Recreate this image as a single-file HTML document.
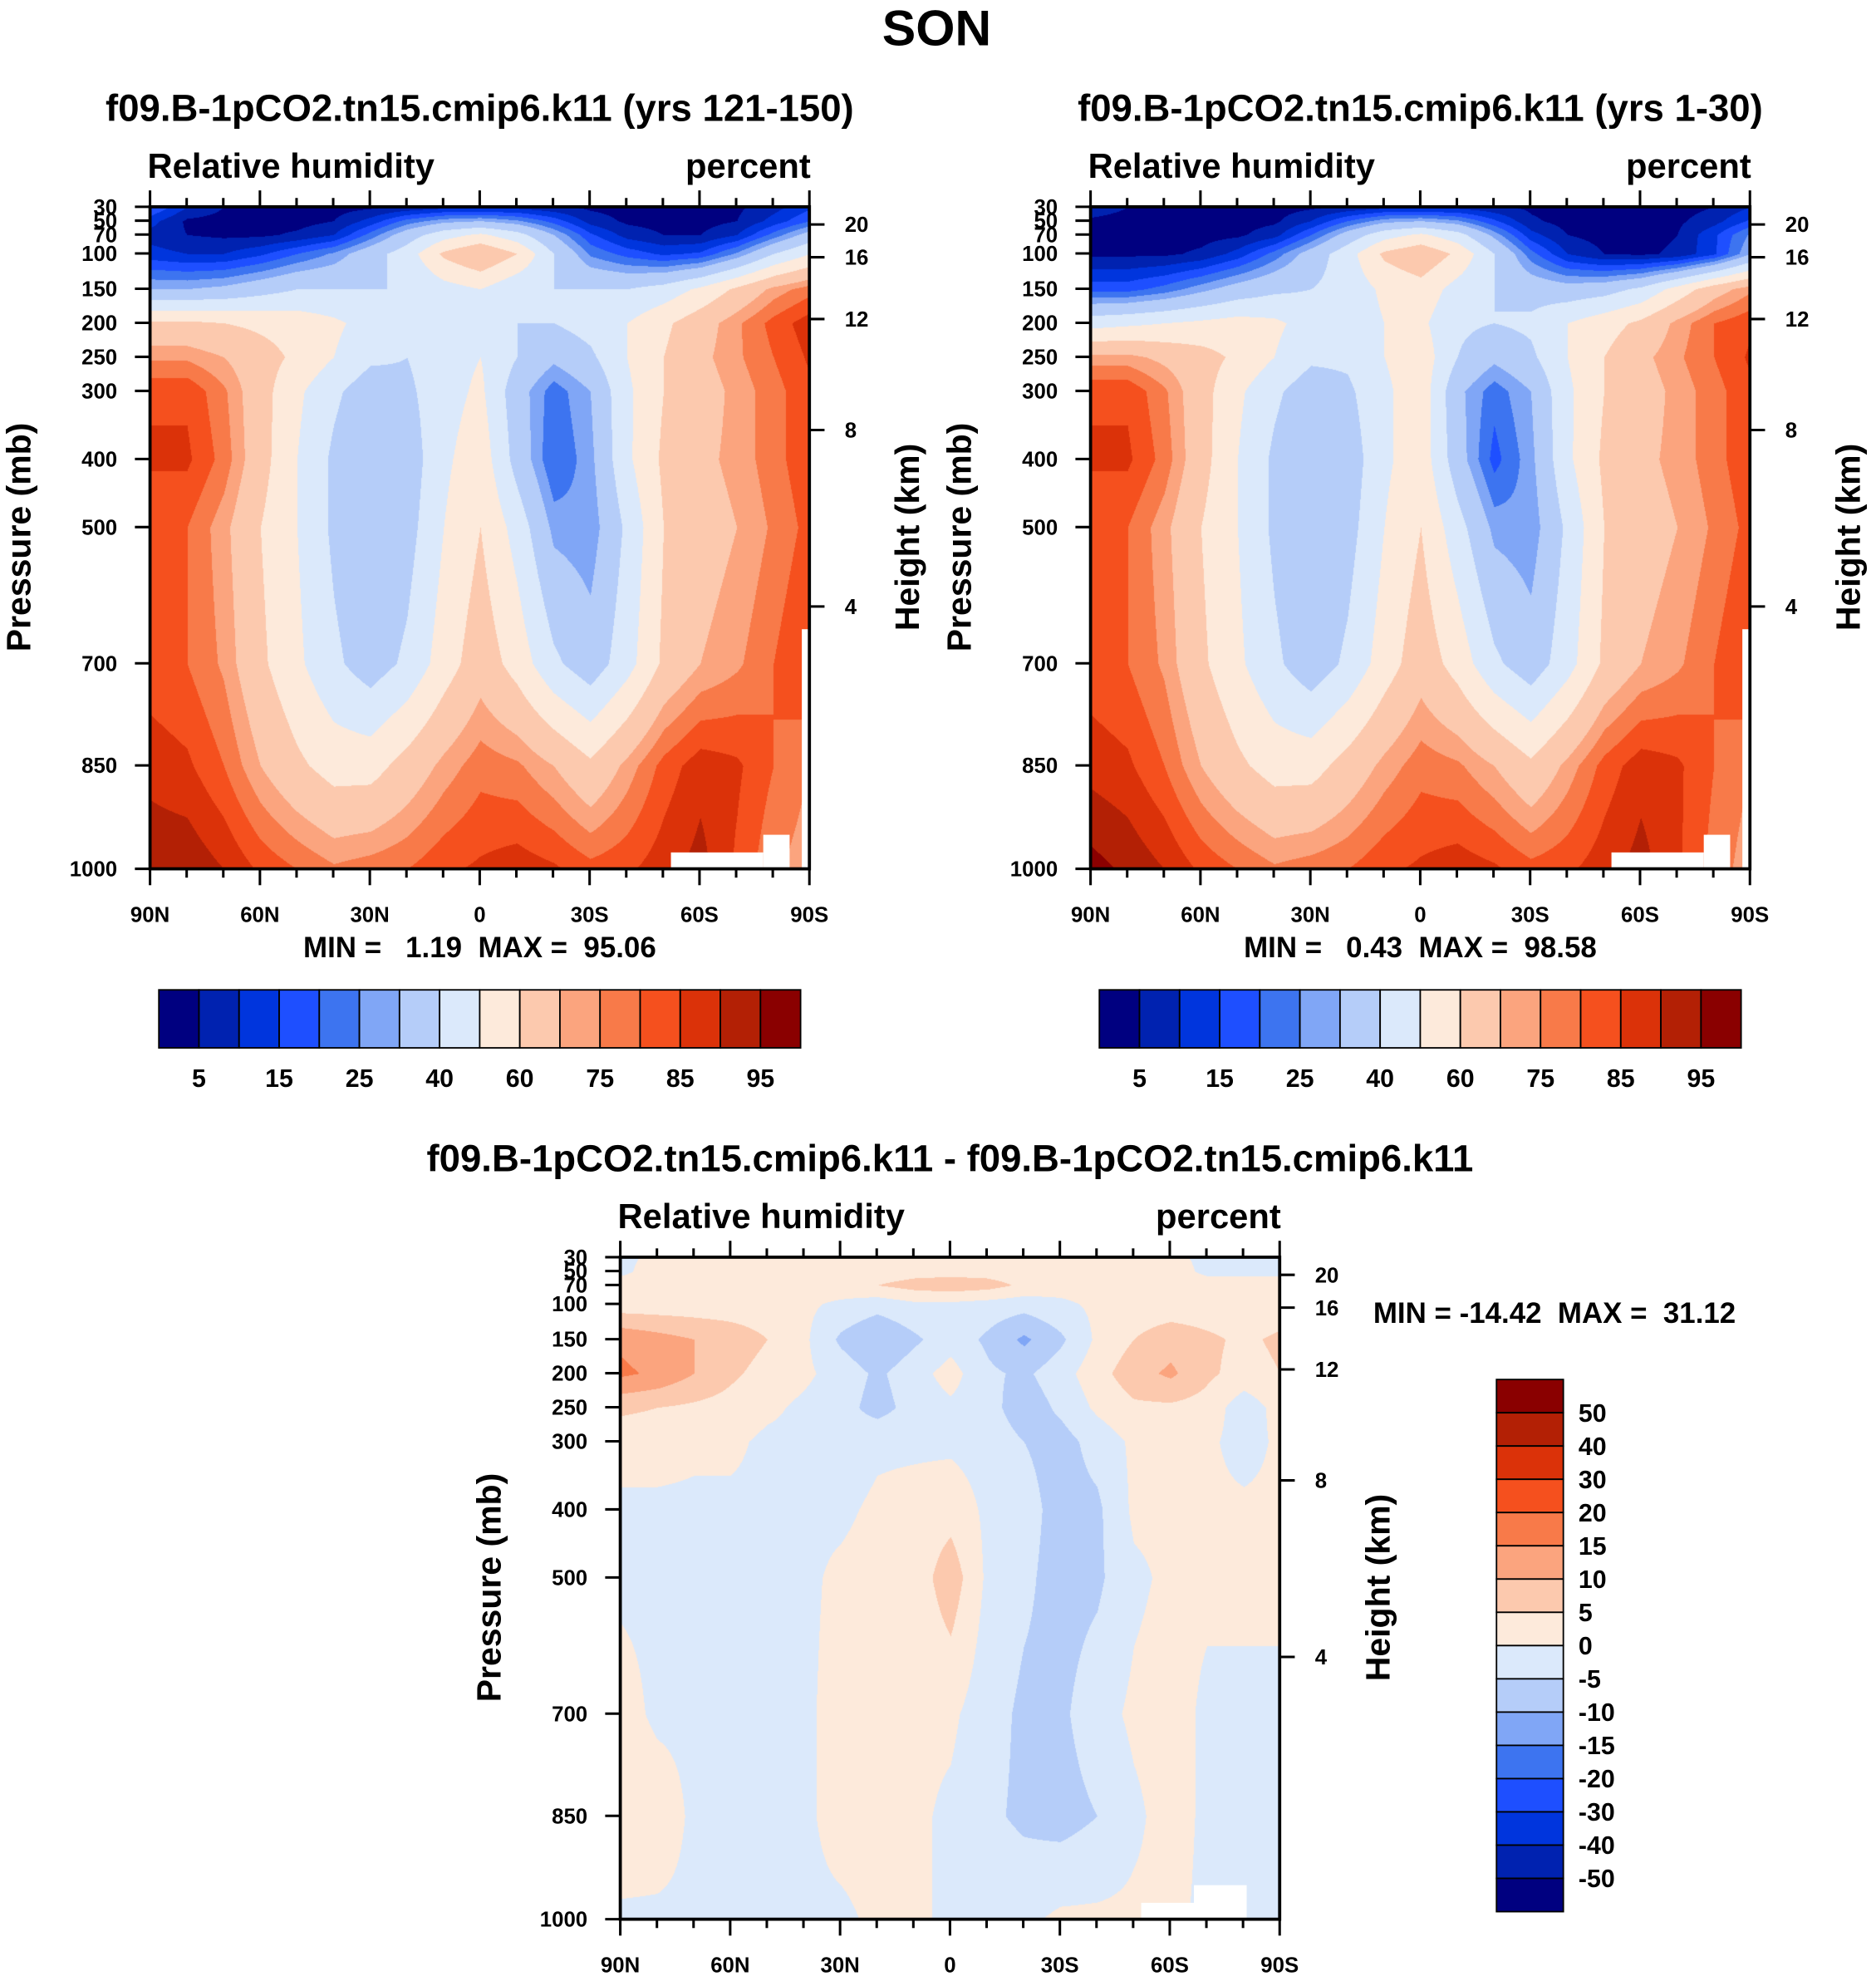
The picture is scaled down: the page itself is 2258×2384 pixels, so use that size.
<!DOCTYPE html>
<html><head><meta charset="utf-8">
<style>
html,body{margin:0;padding:0;background:#fff;}
#wrap{position:relative;width:2258px;height:2384px;overflow:hidden;background:#fff;font-family:"Liberation Sans",sans-serif;}
canvas{position:absolute;}
svg{position:absolute;left:0;top:0;}
text{font-family:"Liberation Sans",sans-serif;font-weight:bold;fill:#000;white-space:pre;}
</style></head>
<body>
<div id="wrap">
<canvas id="c1"></canvas>
<canvas id="c2"></canvas>
<canvas id="c3"></canvas>
<svg id="svg" width="2258" height="2384" viewBox="0 0 1488 1571" preserveAspectRatio="none"></svg>
</div>
<script>
// ---- data ----
const lats = [90,80,70,60,50,40,30,20,10,0,-10,-20,-30,-40,-50,-60,-70,-80,-90];
const levels = [1000,850,700,500,400,300,250,200,150,100,70,50,30];
const absLevels = [5,10,15,20,25,30,40,50,60,70,75,80,85,90,95];
const absTickLabels = ["5","15","25","40","60","75","85","95"];
const diffLevels = [-50,-40,-30,-20,-15,-10,-5,0,5,10,15,20,30,40,50];
const diffTickLabels = ["50","40","30","20","15","10","5","0","-5","-10","-15","-20","-30","-40","-50"];
const colors = ["#000080","#0022b0","#0035dd","#1e4fff","#3d74f0","#80a6f6","#b5cdf9","#dbe9fb","#fdeadb","#fcc9ae","#fba47e","#f87a49","#f5501e","#db3209","#b32005","#8a0000"];
const rh1 = [
[94,94,90,84,80,76,78,80,84,86,88,86,82,84,88,92,84,76,72],
[88,86,80,70,62,56,56,64,72,78,76,70,62,72,82,88,86,80,75],
[82,80,74,62,52,42,35,42,55,66,56,42,34,46,62,70,74,80,86],
[80,80,72,60,50,38,30,36,50,60,46,28,26,42,60,66,70,76,82],
[86,86,78,64,50,38,30,34,48,56,36,20,28,48,62,68,72,78,84],
[84,84,76,64,52,42,34,38,46,52,34,22,30,48,60,66,72,78,84],
[74,74,70,64,58,50,42,40,46,50,40,32,38,50,60,68,74,80,86],
[62,62,60,58,56,52,46,42,44,46,40,40,44,50,58,66,74,82,88],
[30,30,32,36,40,40,40,40,46,50,42,40,40,40,44,52,62,72,78],
[12,10,10,14,20,26,36,45,62,70,60,40,24,18,14,16,26,40,50],
[8,5,4,4,6,10,22,35,46,52,44,30,16,8,5,5,10,22,34],
[12,4,3,3,3,5,12,22,28,30,26,18,8,4,3,3,5,12,20],
[20,10,5,3,3,3,4,6,8,8,8,6,4,3,3,3,4,8,14]];
const rh2 = [
[97,94,90,84,80,76,78,80,84,86,88,86,82,84,88,92,86,78,72],
[88,86,80,70,62,56,56,64,72,78,76,70,62,72,82,88,86,80,75],
[82,80,74,62,52,42,34,42,55,66,56,42,34,46,62,70,74,80,86],
[80,80,72,60,50,38,30,36,50,60,44,28,26,42,60,66,70,76,82],
[86,86,78,64,50,38,30,34,48,56,34,18,28,48,62,68,72,78,84],
[84,84,76,64,52,42,34,38,48,56,32,22,30,48,60,66,72,78,84],
[72,72,68,64,58,50,42,42,50,56,40,32,38,50,60,68,74,80,86],
[46,48,50,52,54,52,46,44,50,52,42,40,42,50,56,62,72,80,84],
[18,18,22,28,34,38,40,44,52,56,46,40,36,34,36,42,54,66,74],
[4,4,4,6,12,22,34,46,62,68,58,40,22,10,5,4,6,14,30],
[3,3,3,3,4,8,20,34,46,52,44,28,12,5,3,3,5,14,26],
[4,3,3,3,3,4,10,20,28,30,26,16,6,3,3,3,4,8,16],
[8,5,3,3,3,3,4,6,8,8,8,6,4,3,3,3,3,5,10]];
const drh = [
[-1,-1,-1,-1,-1,-1,-1,1,1,-1,-1,-1,1,1,1,1,-1,-1,-1],
[4,3,-1,-1,-1,-1,2,2,1,-1,-4,-6,-7,-5,-1,2,-1,-1,-1],
[2,-1,-1,-1,-1,-1,2,2,1,1,-3,-6,-6,-2,1,2,-1,-1,-1],
[-1,-1,-1,-1,-3,-1,1,2,2,8,-1,-4,-7,-6,-1,1,1,1,1],
[-1,-1,-1,-1,-1,-1,-1,1,2,3,-1,-3,-7,-6,1,1,1,1,1],
[2,2,1,1,-1,-1,-3,-1,-1,-1,-2,-5,-7,-3,1,1,1,-2,1],
[6,5,4,3,1,-1,-3,-7,-3,-1,-3,-8,-4,1,4,4,3,-3,2],
[16,14,10,6,3,1,-2,-6,-2,2,-4,-6,-2,3,8,11,6,3,5],
[14,12,10,8,5,1,-6,-10,-6,-2,-6,-11,-6,1,5,8,6,4,6],
[2,2,2,2,2,1,-1,-3,-1,-1,-2,-3,-1,1,2,2,2,2,2],
[2,2,2,2,2,2,3,5,7,8,7,4,2,2,2,2,2,2,2],
[-1,2,2,2,2,2,2,2,3,3,3,2,2,2,2,2,-1,-1,-1],
[-1,1,1,1,1,1,1,1,1,1,1,1,1,1,1,1,-1,-2,-1]];

// ---- layout (display units, viewBox 1488x1571) ----
const S = 2258/1488;
const levelY = [525,443,362,254,200,146,119,92,65,37,22,11,0];
const hTicks = [20,16,12,8,4], hY = [14,40,89,177,317];
const panels = [
 {id:'c1',x:119,y:164,data:rh1,lv:absLevels,title:'f09.B-1pCO2.tn15.cmip6.k11 (yrs 121-150)',mm:'MIN =   1.19  MAX =  95.06'},
 {id:'c2',x:865,y:164,data:rh2,lv:absLevels,title:'f09.B-1pCO2.tn15.cmip6.k11 (yrs 1-30)',mm:'MIN =   0.43  MAX =  98.58'},
 {id:'c3',x:492,y:997,data:drh,lv:diffLevels,title:'f09.B-1pCO2.tn15.cmip6.k11 - f09.B-1pCO2.tn15.cmip6.k11',mm:'MIN = -14.42  MAX =  31.12'}];
const W = 523, H = 525;

function hex(c){return [parseInt(c.slice(1,3),16),parseInt(c.slice(3,5),16),parseInt(c.slice(5,7),16)];}
const rgb = colors.map(hex);
function rowIndex(dy){
  for(let i=0;i<levelY.length-1;i++){
    const a=levelY[i],b=levelY[i+1];
    if(dy<=a && dy>=b) return i+(a-dy)/(a-b);
  }
  return dy>levelY[0]?0:levelY.length-1;
}
function drawPanel(p){
  const cv=document.getElementById(p.id);
  const pw=Math.round(W*S), ph=Math.round(H*S);
  cv.width=pw; cv.height=ph;
  cv.style.left=(p.x*S)+'px'; cv.style.top=(p.y*S)+'px';
  const ctx=cv.getContext('2d');
  const img=ctx.createImageData(pw,ph);
  const nc=lats.length;
  for(let py=0;py<ph;py++){
    const r=rowIndex(py/S);
    const r0=Math.min(Math.floor(r),levels.length-2), fr=r-r0;
    for(let px=0;px<pw;px++){
      const c=(px/pw)*(nc-1);
      const c0=Math.min(Math.floor(c),nc-2), fc=c-c0;
      const d=p.data;
      const v=(d[r0][c0]*(1-fc)+d[r0][c0+1]*fc)*(1-fr)+(d[r0+1][c0]*(1-fc)+d[r0+1][c0+1]*fc)*fr;
      let k=0; while(k<p.lv.length && v>=p.lv[k]) k++;
      const col=rgb[k], o=(py*pw+px)*4;
      img.data[o]=col[0];img.data[o+1]=col[1];img.data[o+2]=col[2];img.data[o+3]=255;
    }
  }
  ctx.putImageData(img,0,0);
}
panels.forEach(drawPanel);

// ---- SVG annotations ----
const svg=document.getElementById('svg');
const NS='http://www.w3.org/2000/svg';
function el(tag,attrs,parent){const e=document.createElementNS(NS,tag);for(const k in attrs)e.setAttribute(k,attrs[k]);(parent||svg).appendChild(e);return e;}
function txt(s,x,y,size,anchor,parent){const t=el('text',{x:x,y:y,'font-size':size,'text-anchor':anchor||'middle'},parent);t.setAttribute('xml:space','preserve');t.textContent=s;return t;}

let t=txt('SON',743,36,40);



const latLabels=['90N','60N','30N','0','30S','60S','90S'];
panels.forEach((p,pi)=>{
  const g=el('g',{});
  
  
  const cx=p.x+W/2;
  let a=txt(p.title,cx,p.y-68,30,'middle',g);
  
  
  a=txt('Relative humidity',p.x-2,p.y-23,27.5,'start',g);
  
  
  a=txt('percent',p.x+W+1,p.y-23,27.5,'end',g);
  
  
  if(pi<2){
    el('rect',{x:p.x+W*0.79,y:p.y+H-13,width:W*0.14,height:13,fill:'#fff'},g);
    el('rect',{x:p.x+W*0.93,y:p.y+H-27,width:W*0.04,height:27,fill:'#fff'},g);
    el('rect',{x:p.x+W-6,y:p.y+H-190,width:6,height:190,fill:'#fff'},g);
  } else {
    el('rect',{x:p.x+W*0.79,y:p.y+H-13,width:W*0.09,height:13,fill:'#fff'},g);
    el('rect',{x:p.x+W*0.87,y:p.y+H-27,width:W*0.08,height:27,fill:'#fff'},g);
  }
  const frame=el('rect',{x:p.x,y:p.y,width:W,height:H,fill:'none',stroke:'#000','stroke-width':2.5},g);
  
  
  for(let i=0;i<=18;i++){
    const x=p.x+W*i/18, major=i%3===0, len=major?13:7;
    el('line',{x1:x,y1:p.y+H,x2:x,y2:p.y+H+len,stroke:'#000','stroke-width':2},g);
    el('line',{x1:x,y1:p.y,x2:x,y2:p.y-len,stroke:'#000','stroke-width':2},g);
    if(major){const l=txt(latLabels[i/3],x,p.y+H+42,17,'middle',g);
      
      }
  }
  levels.forEach((lv,i)=>{
    const y=p.y+levelY[i];
    el('line',{x1:p.x,y1:y,x2:p.x-12,y2:y,stroke:'#000','stroke-width':2},g);
    const l=txt(String(lv),p.x-26,y+6,17,'end',g);
    
    
  });
  hTicks.forEach((h,i)=>{
    const y=p.y+hY[i];
    el('line',{x1:p.x+W,y1:y,x2:p.x+W+12,y2:y,stroke:'#000','stroke-width':2},g);
    const l=txt(String(h),p.x+W+28,y+6,17,'start',g);
    
    
  });
  a=txt('Pressure (mb)',0,0,27,'middle',g);
  a.setAttribute('transform',`translate(${p.x-95},${p.y+262}) rotate(-90)`);
  
  
  a=txt('Height (km)',0,0,27,'middle',g);
  a.setAttribute('transform',`translate(${p.x+W+87},${p.y+262}) rotate(-90)`);
  
  
  if(pi<2){a=txt(p.mm,cx,p.y+595,23,'middle',g);}
  else{a=txt(p.mm,1233,1049,23,'middle',g);}
  
  
});

[126,872].forEach((x0,ci)=>{
  const g=el('g',{});
  
  
  const bw=509/16;
  colors.forEach((c,i)=>{
    const r=el('rect',{x:x0+i*bw,y:785,width:bw,height:46,fill:c,stroke:'#000','stroke-width':1.2},g);
    
    
  });
  absTickLabels.forEach((s,i)=>{
    const l=txt(s,x0+bw*(1+2*i),862,20,'middle',g);
    
    
  });
});
{
  const g=el('g',{});
  
  
  const bh=422/16;
  colors.slice().reverse().forEach((c,i)=>{
    const r=el('rect',{x:1187,y:1094+i*bh,width:53,height:bh,fill:c,stroke:'#000','stroke-width':1.2},g);
    
    
  });
  diffTickLabels.forEach((s,i)=>{
    const l=txt(s,1252,1094+bh*(i+1)+7,20,'start',g);
    
    
  });
}
</script>
</body></html>
